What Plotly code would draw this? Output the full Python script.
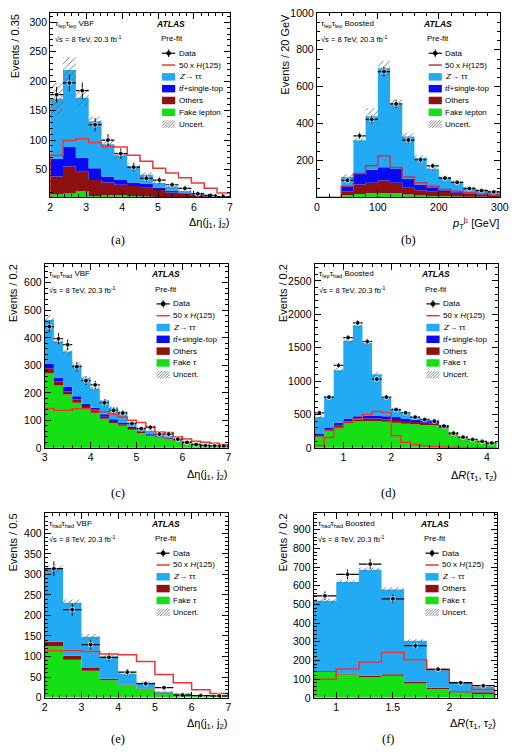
import numpy as np
import plotly.graph_objects as go

W, H = 516, 756
FONT = "Liberation Sans"
SERIF = "Liberation Serif"

C_Z = "#22aaf4"
C_TT = "#0a0af2"
C_OTH = "#8e1010"
C_FAKE = "#14e014"
C_SIG = "#ee3535"
C_SIG_B = "#b8385e"
C_HATCH = "#6a6a6a"

# ---------------- (a) tau_lep tau_lep VBF, Delta eta(j1,j2) ----------------
a_bins = (2.0, 7.0, 14)
a_data = [177, 197, 184, 126, 100, 77, 54, 35, 32, 24, 18, 9, 6, 4]
a_fake = [8, 9, 13, 5, 6, 6, 5, 4, 3, 3, 2, 1.5, 1, 1]
a_others = [30, 46, 33, 27, 22, 18, 17, 15, 12, 8, 7, 4.5, 3, 1.5]
a_ttbar = [30, 33, 24, 20, 10, 9, 6, 7, 4, 3, 2, 1, 1, 0.5]
a_ztt = [102, 131, 102, 80, 55, 41, 27, 15, 8, 7, 3, 2, 0.5, 0.5]
a_sig = [74, 99, 102, 96, 89, 88, 74, 64, 52, 44, 36, 27, 18, 10]
a_unc = [27, 22, 15, 8, 6, 6, 5, 4, 3, 2.5, 2, 1.5, 1, 1]

# ---------------- (b) tau_lep tau_lep Boosted, pT(j1) ----------------
b_bins = (40.0, 300.0, 13)
b_data_bins = (0.0, 300.0, 15)
b_data = [0, 0, 93, 334, 423, 682, 507, 311, 204, 171, 105, 82, 48, 37, 30]
b_fake = [12, 18, 22, 24, 22, 16, 10, 8, 6, 5, 4, 3, 2]
b_others = [22, 52, 57, 67, 57, 36, 29, 26, 23, 20, 17, 13, 10]
b_ttbar = [23, 62, 71, 73, 75, 48, 31, 21, 10, 7, 4, 4, 4]
b_ztt = [53, 178, 290, 536, 351, 230, 145, 100, 71, 53, 30, 23, 18]
b_sig = [60, 129, 171, 225, 162, 111, 79, 61, 43, 34, 25, 21, 16]
b_unc = [15, 12, 45, 40, 25, 20, 15, 10, 7, 6, 4, 3, 3]

# ---------------- (c) tau_lep tau_had VBF, Delta eta(j1,j2) ----------------
c_bins = (3.0, 7.0, 20)
c_data = [441, 397, 375, 295, 244, 229, 164, 136, 127, 88, 70, 74, 50, 50, 32, 20, 12, 8, 7, 7]
c_fake = [271, 227, 194, 164, 143, 128, 106, 90, 80, 66, 54, 44, 38, 32, 24, 19, 14, 11, 8, 6]
c_others = [18, 14, 11, 12, 9, 8, 7, 8, 6, 6, 6, 4, 3, 3, 3, 2, 2, 1, 1, 0.5]
c_ttbar = [18, 15, 18, 12, 8, 10, 9, 6, 6, 4, 3, 3, 3, 3, 2, 2, 1, 1, 0.5, 0.5]
c_ztt = [158, 131, 127, 115, 93, 69, 51, 42, 38, 16, 11, 11, 6, 6, 3, 2, 1, 1, 0.5, 0.5]
c_sig = [143, 137, 137, 142, 142, 137, 131, 122, 112, 100, 92, 78, 58, 56, 40, 32, 24, 20, 17, 12]
c_unc = [18, 10, 12, 8, 7, 8, 5, 4, 4, 3, 3, 3, 2, 2, 2, 2, 1, 1, 1, 1]

# ---------------- (d) tau_lep tau_had Boosted, Delta R(tau1,tau2) ----------------
d_bins = (0.4, 4.2, 19)
d_data = [525, 760, 1235, 1652, 1873, 1593, 1029, 760, 574, 525, 461, 426, 402, 328, 221, 162, 127, 98, 74]
d_fake = [167, 255, 314, 368, 402, 402, 402, 392, 377, 363, 353, 343, 338, 294, 196, 142, 113, 83, 59]
d_others = [14, 15, 24, 34, 34, 39, 39, 34, 40, 39, 34, 34, 25, 20, 15, 8, 5, 4, 4]
d_ttbar = [35, 34, 39, 39, 39, 44, 44, 49, 44, 39, 30, 25, 24, 14, 10, 7, 5, 6, 6]
d_ztt = [245, 466, 785, 1162, 1358, 1084, 618, 270, 122, 69, 49, 24, 15, 10, 9, 10, 9, 5, 5]
d_sig = [35, 157, 300, 390, 430, 500, 545, 530, 180, 85, 50, 30, 20, 12, 8, 5, 3, 2, 1]
d_unc = [25, 30, 45, 40, 40, 40, 35, 20, 15, 12, 10, 10, 10, 8, 6, 5, 4, 3, 3]

# ---------------- (e) tau_had tau_had VBF, Delta eta(j1,j2) ----------------
e_bins = (2.0, 7.0, 10)
e_data = [314, 214, 129, 98, 62, 34, 24, 6, 5, 4]
e_fake = [125, 92, 65, 42, 30, 21, 10, 7, 5, 3]
e_others = [11, 10, 7, 4, 2, 1, 2, 1, 1, 1]
e_ztt = [177, 129, 76, 54, 26, 14, 2, 2, 0.5, 0.5]
e_sig = [114, 114, 112, 106, 104, 88, 56, 36, 19, 10]
e_unc = [8, 8, 7, 5, 4, 3, 2, 2, 1, 1]

# ---------------- (f) tau_had tau_had Boosted, Delta R(tau1,tau2) ----------------
f_bins = (0.8, 2.4, 8)
f_data = [546, 661, 716, 530, 279, 153, 81, 65]
f_fake = [139, 125, 112, 118, 77, 47, 28, 21]
f_others = [5, 5, 6, 8, 9, 7, 7, 9]
f_ztt = [376, 490, 567, 454, 219, 98, 43, 30]
f_sig = [100, 155, 192, 244, 204, 152, 78, 45]
f_unc = [12, 12, 12, 12, 8, 6, 5, 5]

# ---------------- labels ----------------
TT = "<i>t</i><i>t\u0304</i>+single-top"
ZTT = "<i>Z</i>\u2192 \u03c4\u03c4"
SIG = "50 x <i>H</i>(125)"
DETA = "\u0394\u03b7(j<sub>1</sub>, j<sub>2</sub>)"
DR = "\u0394<i>R</i>(\u03c4<sub>1</sub>, \u03c4<sub>2</sub>)"
PT = "<i>p</i><sub>T</sub><sup>j\u2081</sup> [GeV]"
SQRTS = "\u221as = 8 TeV, 20.3 fb<sup>-1</sup>"

panels = [
    dict(box=(48.3, 232.3, 7.0, 194.5), bins=a_bins, dbins=a_bins, data=a_data,
         stack=[(a_fake, C_FAKE), (a_others, C_OTH), (a_ttbar, C_TT), (a_ztt, C_Z)],
         sig=a_sig, unc=a_unc, sigc=C_SIG, xr=[2, 7], yr=[2.5, 316],
         xt=[2, 3, 4, 5, 6, 7], xtt=["2", "3", "4", "5", "6", "7"], xm=0.2,
         yt=[50, 100, 150, 200, 250, 300], ym=10,
         ytitle="Events / 0.35", xtitle=DETA, ytx=11.7, cap="(a)", capx=118, capy=238, xty=220,
         chan="\u03c4<sub>lep</sub>\u03c4<sub>lep</sub> VBF",
         leg=[("data", "Data"), ("line", SIG), ("rect", C_Z, ZTT), ("rect", C_TT, TT),
              ("rect", C_OTH, "Others"), ("rect", C_FAKE, "Fake lepton"), ("hatch", "Uncert.")]),
    dict(box=(321.3, 508.7, 7.0, 194.5), bins=b_bins, dbins=b_data_bins, data=b_data,
         stack=[(b_fake, C_FAKE), (b_others, C_OTH), (b_ttbar, C_TT), (b_ztt, C_Z)],
         sig=b_sig, unc=b_unc, sigc=C_SIG_B, xr=[0, 300], yr=[0, 1000],
         xt=[0, 100, 200, 300], xtt=["0", "100", "200", "300"], xm=20,
         yt=[200, 400, 600, 800, 1000], ym=50,
         ytitle="Events / 20 GeV", xtitle=PT, ytx=289, cap="(b)", capx=414.7, capy=238, xty=221,
         chan="\u03c4<sub>lep</sub>\u03c4<sub>lep</sub> Boosted",
         leg=[("data", "Data"), ("line", SIG), ("rect", C_Z, ZTT), ("rect", C_TT, TT),
              ("rect", C_OTH, "Others"), ("rect", C_FAKE, "Fake lepton"), ("hatch", "Uncert.")]),
    dict(box=(42.7, 230.7, 261.7, 449.0), bins=c_bins, dbins=c_bins, data=c_data,
         stack=[(c_fake, C_FAKE), (c_others, C_OTH), (c_ttbar, C_TT), (c_ztt, C_Z)],
         sig=c_sig, unc=c_unc, sigc=C_SIG, xr=[3, 7], yr=[0, 670],
         xt=[3, 4, 5, 6, 7], xtt=["3", "4", "5", "6", "7"], xm=0.2,
         yt=[0, 100, 200, 300, 400, 500, 600], ym=20,
         ytitle="Events / 0.2", xtitle=DETA, ytx=10, cap="(c)", capx=118, capy=495, xty=476.7,
         chan="\u03c4<sub>lep</sub>\u03c4<sub>had</sub> VBF",
         leg=[("data", "Data"), ("line", SIG), ("rect", C_Z, ZTT), ("rect", C_TT, TT),
              ("rect", C_OTH, "Others"), ("rect", C_FAKE, "Fake \u03c4"), ("hatch", "Uncert.")]),
    dict(box=(319.0, 506.3, 261.7, 449.0), bins=d_bins, dbins=d_bins, data=d_data,
         stack=[(d_fake, C_FAKE), (d_others, C_OTH), (d_ttbar, C_TT), (d_ztt, C_Z)],
         sig=d_sig, unc=d_unc, sigc=C_SIG, xr=[0.4, 4.22], yr=[0, 2760],
         xt=[1, 2, 3, 4], xtt=["1", "2", "3", "4"], xm=0.2,
         yt=[0, 500, 1000, 1500, 2000, 2500], ym=100,
         ytitle="Events / 0.2", xtitle=DR, ytx=286.3, cap="(d)", capx=394.7, capy=495, xty=477.7,
         chan="\u03c4<sub>lep</sub>\u03c4<sub>had</sub> Boosted",
         leg=[("data", "Data"), ("line", SIG), ("rect", C_Z, ZTT), ("rect", C_TT, TT),
              ("rect", C_OTH, "Others"), ("rect", C_FAKE, "Fake \u03c4"), ("hatch", "Uncert.")]),
    dict(box=(42.7, 230.7, 515.0, 702.7), bins=e_bins, dbins=e_bins, data=e_data,
         stack=[(e_fake, C_FAKE), (e_others, C_OTH), (e_ztt, C_Z)],
         sig=e_sig, unc=e_unc, sigc=C_SIG, xr=[2, 7], yr=[0, 450],
         xt=[2, 3, 4, 5, 6, 7], xtt=["2", "3", "4", "5", "6", "7"], xm=0.2,
         yt=[0, 50, 100, 150, 200, 250, 300, 350, 400], ym=10,
         ytitle="Events / 0.5", xtitle=DETA, ytx=10, cap="(e)", capx=118, capy=745, xty=730,
         chan="\u03c4<sub>had</sub>\u03c4<sub>had</sub> VBF",
         leg=[("data", "Data"), ("line", SIG), ("rect", C_Z, ZTT),
              ("rect", C_OTH, "Others"), ("rect", C_FAKE, "Fake \u03c4"), ("hatch", "Uncert.")]),
    dict(box=(318.0, 506.0, 515.0, 703.0), bins=f_bins, dbins=f_bins, data=f_data,
         stack=[(f_fake, C_FAKE), (f_others, C_OTH), (f_ztt, C_Z)],
         sig=f_sig, unc=f_unc, sigc=C_SIG, xr=[0.8, 2.423], yr=[0, 990],
         xt=[1, 1.5, 2], xtt=["1", "1.5", "2"], xm=0.1,
         yt=[0, 100, 200, 300, 400, 500, 600, 700, 800, 900], ym=20,
         ytitle="Events / 0.2", xtitle=DR, ytx=286.3, cap="(f)", capx=394.7, capy=745, xty=730,
         chan="\u03c4<sub>had</sub>\u03c4<sub>had</sub> Boosted",
         leg=[("data", "Data"), ("line", SIG), ("rect", C_Z, ZTT),
              ("rect", C_OTH, "Others"), ("rect", C_FAKE, "Fake \u03c4"), ("hatch", "Uncert.")]),
]


def px(x):
    return x / W


def py(y):
    return 1 - y / H


fig = go.Figure()
shapes = []
annotations = []
layout = {}


def ann(x, y, text, size, xanchor="left", yanchor="middle", family=FONT, **kw):
    annotations.append(dict(x=px(x), y=py(y), xref="paper", yref="paper", text=text,
                            showarrow=False, xanchor=xanchor, yanchor=yanchor,
                            font=dict(family=family, size=size, color="black"),
                            borderpad=0, **kw))


def hatch_box(x0, y0, x1, y1, step=2.8):
    h = y1 - y0
    c = x0 - h
    while c < x1:
        sx, sy = c, y1
        ex, ey = c + h, y0
        if sx < x0:
            sy = y1 - (x0 - sx)
            sx = x0
        if ex > x1:
            ey = y0 + (ex - x1)
            ex = x1
        if ex > sx:
            shapes.append(dict(type="line", xref="paper", yref="paper", x0=px(sx), y0=py(sy),
                               x1=px(ex), y1=py(ey), line=dict(color=C_HATCH, width=0.8)))
        c += step


for i, p in enumerate(panels):
    sfx = "" if i == 0 else str(i + 1)
    xa, ya = "x" + sfx, "y" + sfx
    L, R, T, B = p["box"]
    lo, hi, n = p["bins"]
    edges = np.linspace(lo, hi, n + 1)
    common = dict(xaxis=xa, yaxis=ya, showlegend=False, hoverinfo="skip")

    # stacked background, drawn as filled step areas
    cum = np.zeros(n)
    fig.add_trace(go.Scatter(x=list(edges), y=list(cum) + [cum[-1]], mode="lines",
                             line=dict(width=0, shape="hv"), **common))
    for vals, col in p["stack"]:
        cum = cum + np.array(vals, dtype=float)
        fig.add_trace(go.Scatter(x=list(edges), y=list(cum) + [cum[-1]], mode="lines",
                                 line=dict(width=0, shape="hv"), fill="tonexty",
                                 fillcolor=col, **common))
    total = cum
    unc = np.array(p["unc"], dtype=float)
    lowb = total - unc
    upb = total + unc
    fig.add_trace(go.Scatter(x=list(edges), y=list(lowb) + [lowb[-1]], mode="lines",
                             line=dict(width=0, shape="hv"), **common))
    fig.add_trace(go.Scatter(x=list(edges), y=list(upb) + [upb[-1]], mode="lines",
                             line=dict(width=0, shape="hv"), fill="tonexty",
                             fillcolor="rgba(0,0,0,0)",
                             fillpattern=dict(shape="/", fgcolor=C_HATCH, bgcolor="rgba(0,0,0,0)",
                                              size=4.5, solidity=0.2, fillmode="replace"),
                             **common))

    # signal histogram outline
    sig = list(p["sig"])
    sx = [edges[0]] + list(edges[:-1]) + [edges[-1], edges[-1]]
    sy = [0] + sig + [sig[-1], 0]
    fig.add_trace(go.Scatter(x=sx, y=sy, mode="lines",
                             line=dict(color=p["sigc"], width=1.5, shape="hv"), **common))

    # data points
    dlo, dhi, dn = p["dbins"]
    dedges = np.linspace(dlo, dhi, dn + 1)
    dcent = 0.5 * (dedges[:-1] + dedges[1:])
    dhalf = 0.5 * np.diff(dedges)
    dvals = np.array(p["data"], dtype=float)
    fig.add_trace(go.Scatter(x=dcent, y=dvals, mode="markers",
                             marker=dict(color="black", size=[5 if v > 0 else 0 for v in dvals]),
                             error_y=dict(type="data", array=np.sqrt(dvals), thickness=1, width=0,
                                          color="black"),
                             error_x=dict(type="data", array=dhalf, thickness=1.2, width=0,
                                          color="black"),
                             cliponaxis=True, **common))

    axis_common = dict(showline=True, linecolor="black", linewidth=1, mirror="allticks",
                       ticks="inside", ticklen=6, tickwidth=1, tickcolor="black",
                       showgrid=False, zeroline=False,
                       tickfont=dict(family=FONT, size=10.5, color="black"))
    layout["xaxis" + sfx] = dict(domain=[px(L), px(R)], range=p["xr"], anchor=ya,
                                 tickmode="array", tickvals=p["xt"], ticktext=p["xtt"],
                                 minor=dict(dtick=p["xm"], tick0=0, ticks="inside", ticklen=3,
                                            tickwidth=1, tickcolor="black"),
                                 **axis_common)
    layout["yaxis" + sfx] = dict(domain=[py(B), py(T)], range=p["yr"], anchor=xa,
                                 tickmode="array", tickvals=p["yt"],
                                 ticktext=[str(v) for v in p["yt"]],
                                 minor=dict(dtick=p["ym"], tick0=0, ticks="inside", ticklen=3,
                                            tickwidth=1, tickcolor="black"),
                                 **axis_common)

    # axis titles
    ann(p["ytx"], T, p["ytitle"], 11, xanchor="center", yanchor="top", textangle=-90)
    ann(R, p["xty"], p["xtitle"], 11, xanchor="right", yanchor="middle")
    ann(p["capx"], p["capy"], p["cap"], 12.5, xanchor="center", family=SERIF)

    # inner labels
    ann(L + 3.5, T + 11, p["chan"], 8)
    ann(L + 107.5, T + 11, "<b><i>ATLAS</i></b>", 8.5)
    ann(L + 3.5, T + 26.5, SQRTS, 7.5)
    ann(L + 112, T + 26.5, "Pre-fit", 8)

    sx0, sx1 = L + 114.5, L + 128
    for k, ent in enumerate(p["leg"]):
        yc = T + 41 + 12 * k
        kind = ent[0]
        if kind == "data":
            shapes.append(dict(type="line", xref="paper", yref="paper", x0=px(sx0), x1=px(sx1),
                               y0=py(yc), y1=py(yc), line=dict(color="black", width=1.2)))
            xc = 0.5 * (sx0 + sx1)
            shapes.append(dict(type="line", xref="paper", yref="paper", x0=px(xc), x1=px(xc),
                               y0=py(yc - 3.8), y1=py(yc + 3.8), line=dict(color="black", width=1)))
            shapes.append(dict(type="circle", xref="paper", yref="paper",
                               x0=px(xc - 2.4), x1=px(xc + 2.4), y0=py(yc - 2.4), y1=py(yc + 2.4),
                               fillcolor="black", line=dict(color="black", width=0)))
            label = ent[1]
        elif kind == "line":
            shapes.append(dict(type="line", xref="paper", yref="paper", x0=px(sx0), x1=px(sx1),
                               y0=py(yc), y1=py(yc), line=dict(color=p["sigc"], width=1.5)))
            label = ent[1]
        elif kind == "rect":
            shapes.append(dict(type="rect", xref="paper", yref="paper", x0=px(sx0), x1=px(sx1),
                               y0=py(yc - 3.8), y1=py(yc + 3.8), fillcolor=ent[1],
                               line=dict(width=0)))
            label = ent[2]
        else:
            hatch_box(sx0, yc - 3.8, sx1, yc + 3.8)
            label = ent[1]
        ann(L + 130.5, yc, label, 8)

fig.update_layout(
    width=W, height=H, margin=dict(l=0, r=0, t=0, b=0),
    paper_bgcolor="white", plot_bgcolor="white",
    showlegend=False, shapes=shapes, annotations=annotations,
    font=dict(family=FONT, color="black"),
    **layout,
)

fig.write_html("out.html")
